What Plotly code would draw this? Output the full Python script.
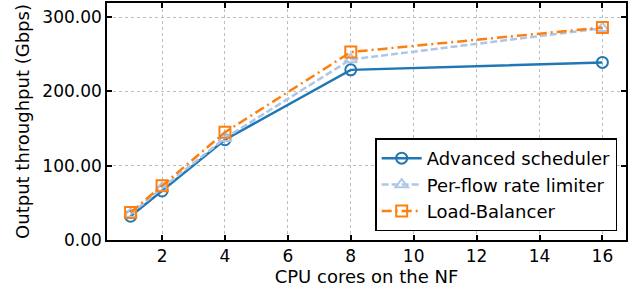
import plotly.graph_objects as go

cores = [1, 2, 4, 8, 16]
advanced_scheduler = [32, 66, 135, 229, 239]
per_flow_limiter = [35, 70, 137, 243, 285]
load_balancer = [37, 73, 145, 253, 286]
series_names = ["Advanced scheduler", "Per-flow rate limiter", "Load-Balancer"]
x_ticks = [2, 4, 6, 8, 10, 12, 14, 16]
y_ticks = [0, 100, 200, 300]

FONT = "DejaVu Sans"
fig = go.Figure()
styles = [
    (advanced_scheduler, "#1f77b4", "solid", "circle-open"),
    (per_flow_limiter, "#aec7e8", "7px,3px", "triangle-up-open"),
    (load_balancer, "#ff7f0e", "10px,4px,2px,4px", "square-open"),
]
for name, (vals, col, dash, sym) in zip(series_names, styles):
    fig.add_trace(go.Scatter(
        x=cores, y=vals, name=name, mode="lines+markers",
        line=dict(color=col, width=2.5, dash=dash),
        marker=dict(symbol=sym, size=11, color=col, line=dict(width=2, color=col)),
    ))

axis_common = dict(
    showline=True, linecolor="black", linewidth=1.5, mirror="ticks",
    ticks="inside", ticklen=5, tickwidth=1.5, tickcolor="black",
    showgrid=True, gridcolor="#bdbdbd", griddash="dot", gridwidth=1,
    zeroline=False, automargin=False,
    tickfont=dict(family=FONT, size=17, color="black"),
)
fig.update_xaxes(range=[0.25, 16.75], tickvals=x_ticks,
                 title=dict(text="CPU cores on the NF", font=dict(family=FONT, size=18, color="black"), standoff=4),
                 **axis_common)
fig.update_yaxes(range=[0, 319], tickvals=y_ticks, tickformat=".2f",
                 title=dict(text="Output throughput (Gbps)", font=dict(family=FONT, size=18, color="black"), standoff=8),
                 **axis_common)
fig.update_layout(
    width=636, height=292,
    margin=dict(l=107, r=10, t=3, b=52),
    paper_bgcolor="white", plot_bgcolor="white",
    font=dict(family=FONT, size=17, color="black"),
    showlegend=True,
    legend=dict(x=0.983, y=0.036, xanchor="right", yanchor="bottom",
                bgcolor="white", bordercolor="black", borderwidth=1.5,
                font=dict(family=FONT, size=18, color="black"),
                itemwidth=40, tracegroupgap=0),
)
fig.write_html("out.html", config={"displayModeBar": False},
               post_script="document.body.style.margin='0';document.body.style.padding='0';")
